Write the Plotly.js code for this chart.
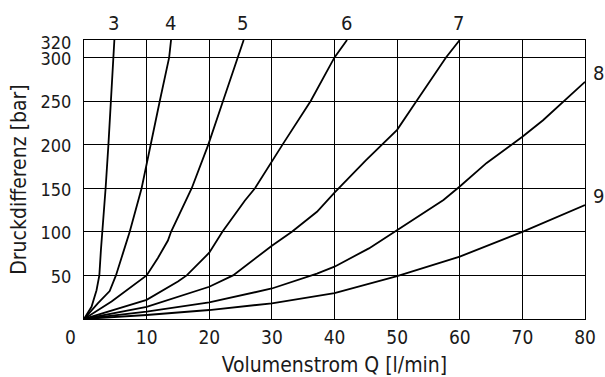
<!DOCTYPE html>
<html>
<head>
<meta charset="utf-8">
<script src="https://cdn.plot.ly/plotly-3.0.1.min.js"></script>
<style>html,body{margin:0;padding:0;background:#fff;}#chart{width:605px;height:377px;}</style>
</head>
<body>
<div id="chart"></div>
<script>
// Curve names (size numbers)
const curveNames = ["3", "4", "5", "6", "7", "8", "9"];

// Volumenstrom Q [l/min] per curve
const q3 = [0, 1.2, 2.0, 2.45, 2.7, 2.95, 3.45, 3.9, 4.26, 4.7, 4.85];
const q4 = [0, 2.2, 4.1, 5.1, 6.2, 7.3, 9.2, 10.6, 12.1, 13.6, 13.9];
const q5 = [0, 4.4, 10, 11.8, 13.4, 13.9, 17.2, 19.85, 22.2, 24.6, 25.5];
const q6 = [0, 10, 15, 16.4, 20, 22.1, 25.7, 27.3, 31.7, 36.2, 40, 42];
const q7 = [0, 10, 20, 23.8, 30, 33.2, 37.2, 40, 45, 50, 53.1, 57.8, 60];
const q8 = [0, 10, 20, 30, 37.2, 40, 45.5, 50, 57.4, 60, 64.3, 70, 73.3, 80];
const q9 = [0, 10, 20, 30, 40, 50, 60, 70, 80];

// Druckdifferenz [bar] per curve
const p3 = [0, 14, 33, 50, 79, 100, 150, 200, 250, 300, 320];
const p4 = [0, 18, 32, 50, 75, 100, 150, 200, 250, 300, 320];
const p5 = [0, 20, 50, 70, 90, 100, 150, 200, 250, 300, 320];
const p6 = [0, 22, 43, 50, 76, 100, 136, 150, 200, 250, 300, 320];
const p7 = [0, 14, 37, 50, 84, 100, 123, 145, 182, 217, 250, 300, 320];
const p8 = [0, 8.5, 19, 35, 52, 60, 81, 102, 136.5, 152, 179, 209, 228, 272];
const p9 = [0, 4.6, 10.3, 18, 29.7, 49.3, 71.5, 100, 130.7];

const xTickVals = [0, 10, 20, 30, 40, 50, 60, 70, 80];
const xTickText = ["0\u00a0\u00a0\u00a0\u00a0\u00a0", "10", "20", "30", "40", "50", "60", "70", "80"];
const yTickVals = [50, 100, 150, 200, 250, 300];
const yTickText = ["50", "100", "150", "200", "250", "300"];
const yTopVals = [320];
const yTopText = ["320"];

const xTitle = "Volumenstrom Q [l/min]";
const yTitle = "Druckdifferenz [bar]";

const qs = [q3, q4, q5, q6, q7, q8, q9];
const ps = [p3, p4, p5, p6, p7, p8, p9];

const FONT = "'DejaVu Sans Condensed', 'Liberation Sans', sans-serif";
const INK = "#1a1a1a";
const Y_RANGE = [0, 320];

const traces = qs.map((q, i) => ({
  x: q, y: ps[i], type: "scatter", mode: "lines", name: curveNames[i],
  yaxis: i === 0 ? "y2" : "y",
  line: {color: "#000", width: 1.8}, hoverinfo: "skip", cliponaxis: true
}));

// Labels at curve ends: top-exiting curves above, right-exiting curves to the right
const annotations = qs.map((q, i) => {
  const xe = q[q.length - 1], ye = ps[i][ps[i].length - 1];
  const right = xe >= 80;
  return {
    x: xe, y: ye, xref: "x", yref: "y", text: curveNames[i], showarrow: false,
    xanchor: right ? "left" : "center", yanchor: right ? "middle" : "bottom",
    xshift: right ? 6 : -1, yshift: right ? 9 : 3,
    font: {family: FONT, size: 20, color: INK}
  };
});

const axisCommon = {
  showgrid: true, gridcolor: "#000", gridwidth: 1,
  showline: true, linecolor: "#000", linewidth: 1, mirror: true,
  zeroline: false, tickcolor: "rgba(0,0,0,0)", tickmode: "array"
};

const layout = {
  width: 605, height: 377,
  margin: {l: 84, r: 20, t: 40, b: 58},
  paper_bgcolor: "#fff", plot_bgcolor: "#fff",
  showlegend: false,
  font: {family: FONT, color: INK},
  xaxis: Object.assign({}, axisCommon, {
    range: [0, 80], tickvals: xTickVals, ticktext: xTickText,
    ticks: "outside", ticklen: 1,
    tickfont: {family: FONT, size: 19, color: INK},
    title: {text: xTitle, font: {family: FONT, size: 21, color: INK}, standoff: 11}
  }),
  yaxis: Object.assign({}, axisCommon, {
    range: Y_RANGE, tickvals: yTickVals, ticktext: yTickText,
    ticks: "outside", ticklen: 8, ticklabelshift: 1,
    tickfont: {family: FONT, size: 18, color: INK},
    title: {text: yTitle, font: {family: FONT, size: 21, color: INK}, standoff: 8}
  }),
  yaxis2: {
    overlaying: "y", side: "left", range: Y_RANGE,
    tickmode: "array", tickvals: yTopVals, ticktext: yTopText,
    showgrid: false, zeroline: false, showline: false,
    ticks: "outside", ticklen: 8, tickcolor: "rgba(0,0,0,0)", ticklabelshift: 3,
    tickfont: {family: FONT, size: 18, color: INK}
  },
  annotations: annotations
};

Plotly.newPlot("chart", traces, layout, {staticPlot: true, displayModeBar: false});
</script>
</body>
</html>
